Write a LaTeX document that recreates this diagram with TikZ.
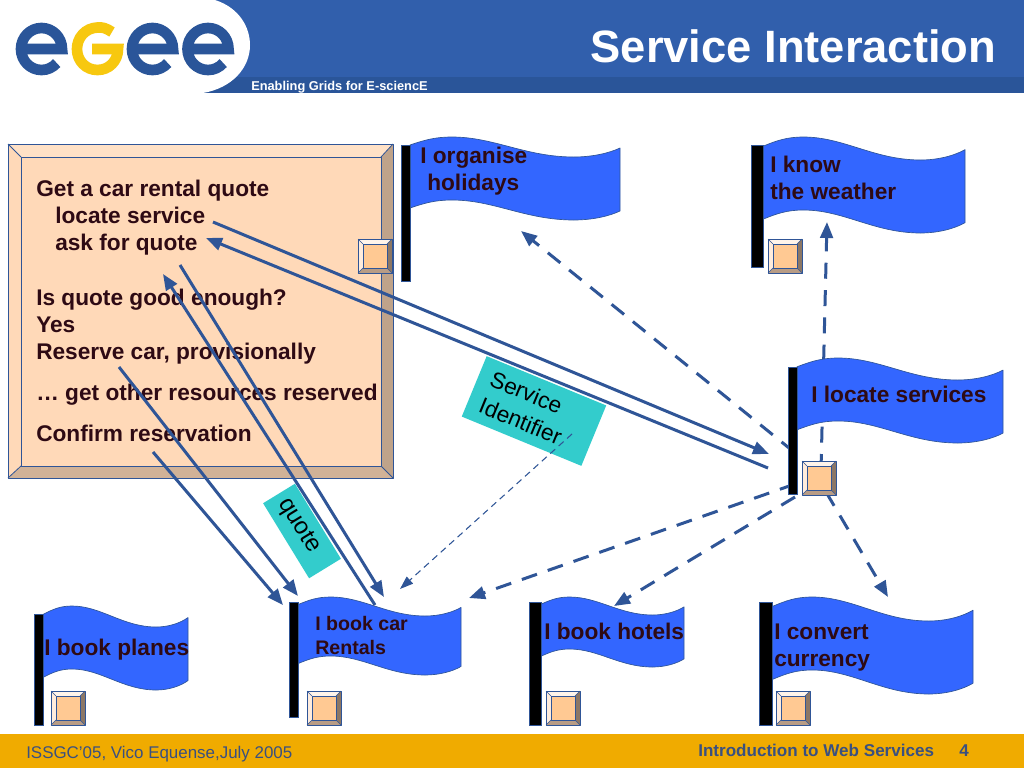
\documentclass[tikz,border=0pt]{standalone}
\usepackage{fontspec}
\setmainfont{Liberation Sans}
\usetikzlibrary{arrows.meta,calc}
\definecolor{hdr}{HTML}{315FAC}
\definecolor{hdrd}{HTML}{2A5599}
\definecolor{gold}{HTML}{F0AB00}
\definecolor{lineblue}{HTML}{2F5597}
\definecolor{flagblue}{HTML}{3366FF}
\definecolor{ink}{HTML}{2E0A14}
\definecolor{teal}{HTML}{33CCCC}
\definecolor{logoy}{HTML}{F7C80F}
\definecolor{logob}{HTML}{2A5599}
\definecolor{peach}{HTML}{FFD9B8}
\definecolor{peachd}{HTML}{FFC993}
\definecolor{footink}{HTML}{3A5080}
\tikzset{
  solidarrow/.style={draw=lineblue,line width=2.25pt,-{Triangle[length=12pt,width=9.5pt]}},
  dasharrow/.style={solidarrow,dash pattern=on 12pt off 8.5pt},
  thindash/.style={draw=lineblue,line width=0.8pt,dash pattern=on 5pt off 3.5pt,-{Triangle[length=10pt,width=7pt]}},
  flagtext/.style={anchor=base west,inner sep=0pt,text=ink,font=\fontsize{17}{18}\selectfont\bfseries},
  boxtext/.style={anchor=base west,inner sep=0pt,text=ink,font=\fontsize{17}{18}\selectfont\bfseries},
  tealbox/.style={fill=teal,draw=none,inner sep=0pt,text=black},
  bev/.style={draw=lineblue,line width=0.6pt,line join=round},
  logostroke/.style={line width=8pt,line cap=butt},
}
% \wflag{x0}{xpeak y}{width}{A}{H}
\newcommand{\wflag}[5]{%
  \pgfmathsetmacro{\rr}{#5/#4}%
  \begin{scope}[shift={(#1,#2)},x=#3*0.75pt,y=-#4*0.75pt]
    \draw[fill=flagblue,draw=lineblue,line width=0.5pt,line join=round]
      (0,0.4) .. controls (0.07,0.15) and (0.12,0) .. (0.2,0)
      .. controls (0.4,0) and (0.55,1) .. (0.78,1)
      .. controls (0.87,1) and (0.95,0.8) .. (1,0.55)
      -- (1,0.55+\rr) .. controls (0.95,0.8+\rr) and (0.87,1+\rr) .. (0.78,1+\rr)
      .. controls (0.55,1+\rr) and (0.4,\rr) .. (0.2,\rr)
      .. controls (0.12,\rr) and (0.07,0.15+\rr) .. (0,0.4+\rr) -- cycle;
  \end{scope}}
% pole
\newcommand{\pole}[4]{\fill[black] (#1,#2) rectangle (#3,#4);\draw[lineblue,line width=0.4pt] (#1,#2) rectangle (#3,#4);}
% small bevel button
\newcommand{\bevbtn}[2]{%
  \begin{scope}[shift={(#1,#2)}]
    \fill[peachd] (0,0) rectangle (34,34);
    \fill[white!70!peach] (0,0) -- (34,0) -- (29,5) -- (5,5) -- cycle;
    \fill[white!50!peach] (0,0) -- (5,5) -- (5,29) -- (0,34) -- cycle;
    \fill[black!45!peach] (34,0) -- (34,34) -- (29,29) -- (29,5) -- cycle;
    \fill[black!28!peach] (0,34) -- (34,34) -- (29,29) -- (5,29) -- cycle;
    \draw[bev] (0,0) rectangle (34,34);
    \draw[bev,line width=0.3pt] (5,5) rectangle (29,29);
    \draw[bev,line width=0.3pt] (0,0) -- (5,5) (34,0) -- (29,5) (0,34) -- (5,29) (34,34) -- (29,29);
  \end{scope}}
\begin{document}
\begin{tikzpicture}[x=0.75pt,y=-0.75pt]
\useasboundingbox (0,0) rectangle (1024,768);
\fill[white] (0,0) rectangle (1024,768);
% header
\fill[hdr] (0,0) rectangle (1024,93);
\fill[hdrd] (200,77) rectangle (1024,93);
\fill[white] (0,0) -- (215,0) .. controls (240,8) and (250,28) .. (250,45)
  .. controls (250,68) and (232,88) .. (203,93) -- (0,93) -- cycle;
% logo
\foreach \cx in {41.5,152.5,208} {
  \draw[logob,logostroke] (\cx-20.5,49) -- (\cx+20.5,49)
    arc[start angle=0,end angle=-318,x radius=20.5,y radius=21];
}
\draw[logoy,logostroke] (112,32) .. controls (106,28) and (102,27) .. (97.5,27.5)
  .. controls (85,28) and (77,38) .. (77,49)
  .. controls (77,61) and (86,70) .. (97.5,70)
  .. controls (109,70) and (118,61) .. (118,49) -- (92,49);
\node[anchor=base west,inner sep=0pt,text=white,font=\fontsize{9.6}{11}\selectfont\bfseries] (sub) at (251,90) {Enabling Grids for E-sciencE};
\node[anchor=base east,inner sep=0pt,text=white,font=\fontsize{34}{36}\selectfont\bfseries] (title) at (996.5,62) {Service Interaction};
% footer
\fill[gold] (0,734) rectangle (1024,768);
\node[anchor=base west,inner sep=0pt,text=footink,font=\fontsize{12.7}{14}\selectfont] (f1) at (26,758) {ISSGC’05, Vico Equense,July 2005};
\node[anchor=base west,inner sep=0pt,text=footink,font=\fontsize{12.8}{14}\selectfont\bfseries] (f2) at (698,756) {Introduction to Web Services};
\node[anchor=base west,inner sep=0pt,text=footink,font=\fontsize{12.8}{14}\selectfont\bfseries] (f3) at (959,756) {4};
% main box
\fill[peach] (8,144) rectangle (393,478);
\fill[white!20!peach] (8,144) -- (393,144) -- (381,157) -- (21,157) -- cycle;
\fill[black!25!peach] (393,144) -- (393,478) -- (381,466) -- (381,157) -- cycle;
\fill[black!18!peach] (8,478) -- (393,478) -- (381,466) -- (21,466) -- cycle;
\draw[bev] (8,144) rectangle (393,478) (21,157) rectangle (381,466);
\draw[bev] (8,144) -- (21,157) (393,144) -- (381,157) (8,478) -- (21,466) (393,478) -- (381,466);
\node[boxtext] (t1) at (36,196) {Get a car rental quote};
\node[boxtext] (t2) at (55,223) {locate service};
\node[boxtext] (t3) at (55,250) {ask for quote};
\node[boxtext] (t4) at (36,305) {Is quote good enough?};
\node[boxtext] (t5) at (36,332) {Yes};
\node[boxtext] (t6) at (36,359) {Reserve car, provisionally};
\node[boxtext] (t7) at (36,400) {… get other resources reserved};
\node[boxtext] (t8) at (36,441) {Confirm reservation};
% connector ends
\coordinate (a1s) at (213,222); \coordinate (a1e) at (769,454);
\coordinate (a2s) at (768,468); \coordinate (a2e) at (206,238);
\coordinate (a3s) at (180,265); \coordinate (a3e) at (384,597);
\coordinate (a4s) at (375,605); \coordinate (a4e) at (163,274);
\coordinate (a5s) at (119,367); \coordinate (a5e) at (298,596);
\coordinate (a6s) at (153,452); \coordinate (a6e) at (283,605);
\coordinate (d1s) at (794,452); \coordinate (d1e) at (521,231);
\coordinate (d2s) at (821,470); \coordinate (d2e) at (827,222);
\coordinate (d3s) at (795,484); \coordinate (d3e) at (469,598);
\coordinate (d4s) at (795,497); \coordinate (d4e) at (614,606);
\coordinate (d5s) at (826,492); \coordinate (d5e) at (888,597);
\coordinate (d6s) at (572,434); \coordinate (d6e) at (400,589);
% dashed connectors (behind flags)
\draw[dasharrow] (d2s) -- (d2e);
\draw[dasharrow] (d1s) -- (d1e);
\draw[dasharrow] (d3s) -- (d3e);
\draw[dasharrow] (d4s) -- (d4e);
\draw[dasharrow] (d5s) -- (d5e);
% flags
\wflag{410}{137}{210}{20}{63}
\pole{401}{145}{410}{281}
\wflag{763}{137}{202}{23}{73}
\pole{751}{145}{763}{267}
\wflag{797}{358}{206}{22}{63}
\pole{788}{367}{797}{494}
\wflag{43}{606}{145}{21}{63}
\pole{34}{614}{43}{725}
\wflag{298}{597}{163}{19}{59}
\pole{289}{602}{298}{717}
\wflag{541}{597}{143}{18}{52}
\pole{529}{602}{541}{725}
\wflag{772}{597}{201}{24}{73}
\pole{759}{602}{772}{725}
% teal labels
\node[tealbox,minimum height=49pt,rotate=-22.4,align=left,text width=78pt,inner xsep=9.5pt,font=\fontsize{17}{21.5}\selectfont] (sid) at (534,411) {Service\\Identifier};
\node[tealbox,minimum width=66pt,minimum height=28pt,rotate=-58.5,font=\fontsize{18}{20}\selectfont] (quote) at (302,531) {\kern-9pt\raisebox{-2.2pt}{quote}};
% solid connectors
\draw[solidarrow] (a1s) -- (a1e);
\draw[solidarrow] (a2s) -- (a2e);
\draw[solidarrow] (a3s) -- (a3e);
\draw[solidarrow] (a4s) -- (a4e);
\draw[solidarrow] (a5s) -- (a5e);
\draw[solidarrow] (a6s) -- (a6e);
% buttons
\bevbtn{358}{239}
\bevbtn{768}{239}
\bevbtn{802}{461}
\bevbtn{51}{691}
\bevbtn{307}{691}
\bevbtn{546}{691}
\bevbtn{776}{691}
\draw[thindash] (d6s) -- (d6e);
% flag texts
\node[flagtext] (n1) at (420,163) {I organise};
\node[flagtext] (n2) at (427,190) {holidays};
\node[flagtext] (n3) at (770,172) {I know};
\node[flagtext] (n4) at (770,199) {the weather};
\node[flagtext] (n5) at (811,402) {I locate services};
\node[flagtext] (n6) at (44,655) {I book planes};
\node[flagtext,font=\fontsize{14.7}{15}\selectfont\bfseries] (n7) at (315,630) {I book car};
\node[flagtext,font=\fontsize{14.7}{15}\selectfont\bfseries] (n8) at (315,654) {Rentals};
\node[flagtext] (n9) at (544,639) {I book hotels};
\node[flagtext] (n10) at (774,639) {I convert};
\node[flagtext] (n11) at (774,666) {currency};
\end{tikzpicture}
\end{document}
